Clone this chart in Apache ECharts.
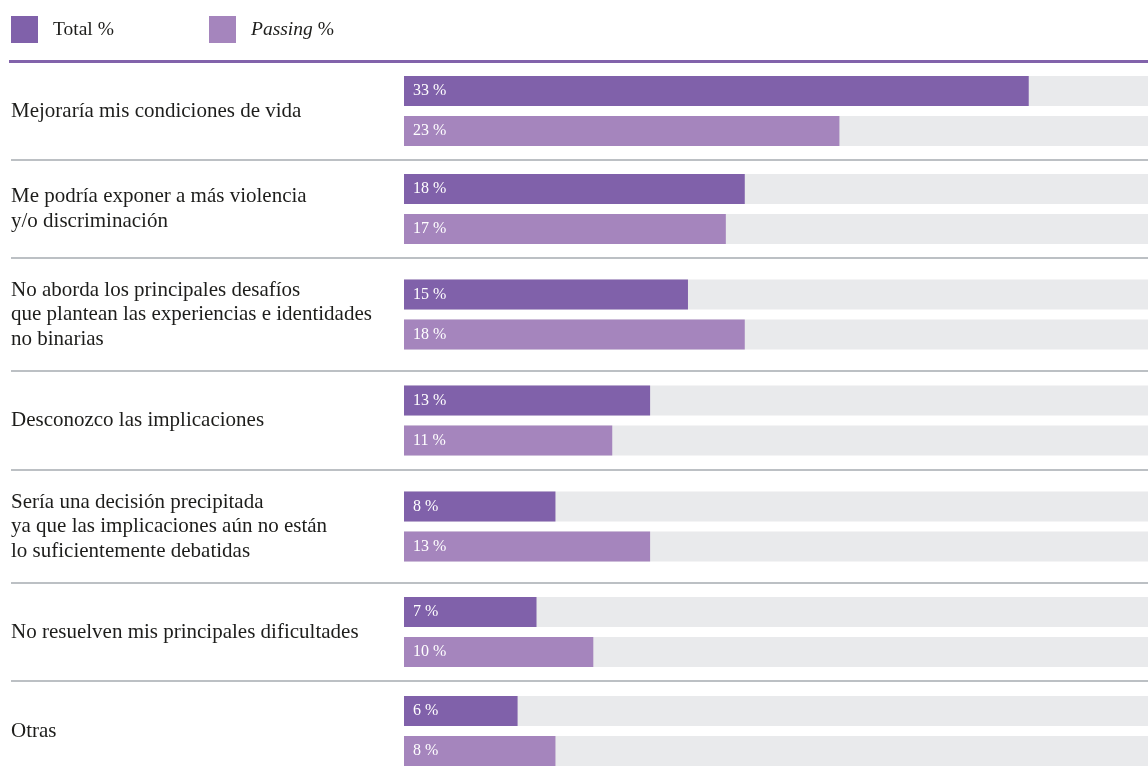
<!DOCTYPE html>
<html>
<head>
<meta charset="utf-8">
<script src="https://cdn.jsdelivr.net/npm/echarts@6/dist/echarts.min.js"></script>
<style>
  html, body { margin: 0; padding: 0; background: #ffffff; }
  #chart { width: 1148px; height: 771px; }
</style>
</head>
<body>
<div id="chart"></div>
<script>
// Answers and their shares
const categories = [
  'Mejoraría mis condiciones de vida',
  'Me podría exponer a más violencia\ny/o discriminación',
  'No aborda los principales desafíos\nque plantean las experiencias e identidades\nno binarias',
  'Desconozco las implicaciones',
  'Sería una decisión precipitada\nya que las implicaciones aún no están\nlo suficientemente debatidas',
  'No resuelven mis principales dificultades',
  'Otras'
];
const totalPct = [33, 18, 15, 13, 8, 7, 6];
const passingPct = [23, 17, 18, 11, 13, 10, 8];
const seriesNames = ['Total %', 'Passing %'];

// Row bands (each answer gets its own grid so rows can differ in height)
const bandTop = [62, 160, 258, 371, 470, 583, 691];
const bandHeight = [98, 98, 113, 99, 113, 98, 80];
const separatorY = [160, 258, 371, 470, 583, 681];
const axisMax = 39.3;

const FONT = '"Liberation Serif", "DejaVu Serif", serif';
const COLOR_TOTAL = '#8061aa';
const COLOR_PASSING = '#a585bd';
const COLOR_TRACK = '#e9eaec';
const TEXT = '#1d1d1b';

const grids = [], xAxes = [], yAxes = [], series = [];
categories.forEach((cat, i) => {
  grids.push({ left: 404, right: 0, top: bandTop[i], height: bandHeight[i], containLabel: false });
  xAxes.push({ gridIndex: i, type: 'value', min: 0, max: axisMax, show: false });
  yAxes.push({
    gridIndex: i, type: 'category', data: [cat], inverse: true,
    axisLine: { show: false }, axisTick: { show: false }, splitLine: { show: false },
    axisLabel: {
      margin: 393, align: 'left', verticalAlign: 'middle',
      fontFamily: FONT, fontSize: 21, lineHeight: 24.5, color: TEXT
    }
  });
  [[seriesNames[0], totalPct, COLOR_TOTAL], [seriesNames[1], passingPct, COLOR_PASSING]].forEach(([name, values, color]) => {
    series.push({
      name: name, type: 'bar', xAxisIndex: i, yAxisIndex: i,
      data: [values[i]],
      barWidth: 30, barGap: '33.4%',
      itemStyle: { color: color },
      showBackground: true,
      backgroundStyle: { color: COLOR_TRACK },
      label: {
        show: true, position: 'insideLeft', distance: 9,
        formatter: '{c} %', color: '#ffffff',
        fontFamily: FONT, fontSize: 16
      },
      emphasis: { disabled: true },
      animation: false
    });
  });
});

// Rules: heavy header line and thin separators between answers
const graphics = [{
  type: 'line', shape: { x1: 9, y1: 61.5, x2: 1148, y2: 61.5 },
  style: { stroke: '#8263ab', lineWidth: 3 }, silent: true
}];
separatorY.forEach(y => {
  graphics.push({
    type: 'line', shape: { x1: 11, y1: y, x2: 1148, y2: y },
    style: { stroke: '#bcc0c4', lineWidth: 2 }, silent: true
  });
});

const legendBase = {
  top: 16, padding: 0, itemWidth: 27, itemHeight: 27, icon: 'rect', selectedMode: false,
  textStyle: {
    fontFamily: FONT, fontSize: 19.5, color: TEXT, padding: [0, 0, 0, 10],
    rich: { i: { fontFamily: FONT, fontSize: 19.5, color: TEXT, fontStyle: 'italic' } }
  }
};

const chart = echarts.init(document.getElementById('chart'), null, { renderer: 'canvas' });
chart.setOption({
  backgroundColor: '#ffffff',
  animation: false,
  legend: [
    Object.assign({}, legendBase, { left: 11, data: [seriesNames[0]] }),
    Object.assign({}, legendBase, {
      left: 209, data: [seriesNames[1]],
      formatter: n => '{i|' + n.replace(' %', '') + '} %'
    })
  ],
  grid: grids,
  xAxis: xAxes,
  yAxis: yAxes,
  series: series,
  graphic: graphics
});
</script>
</body>
</html>
